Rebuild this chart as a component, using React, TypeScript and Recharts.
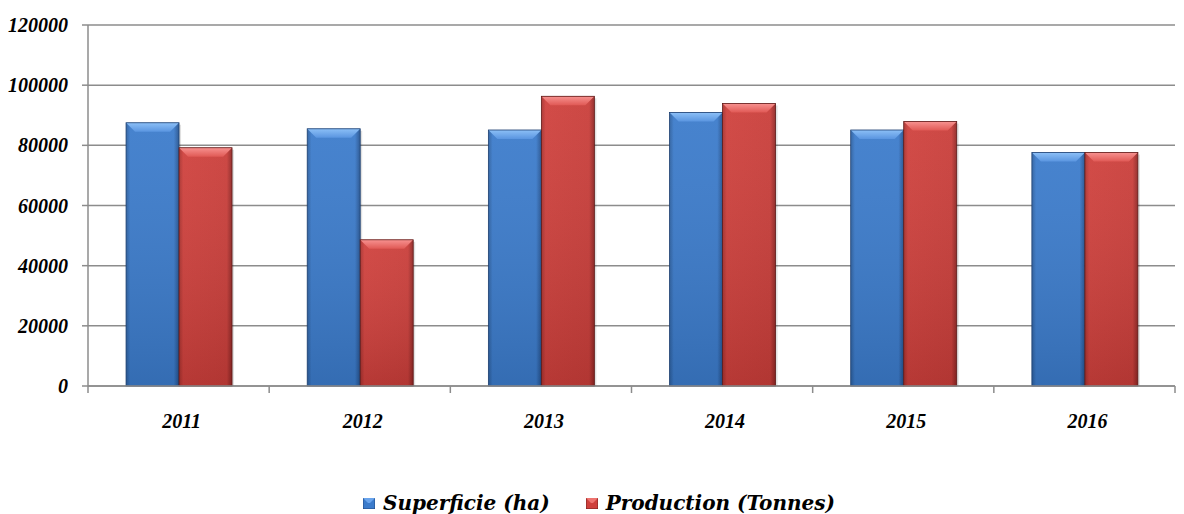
import React from "react"
import { BarChart, Bar, XAxis, YAxis, CartesianGrid, Legend } from "recharts"

// Superficie et production par année
const YEARS = ["2011", "2012", "2013", "2014", "2015", "2016"]
const SUPERFICIE = [87500, 85500, 85100, 90900, 85100, 77600]
const PRODUCTION = [79200, 48600, 96300, 93900, 87900, 77600]
const Y_TICKS = [0, 20000, 40000, 60000, 80000, 100000, 120000]
const SERIES_NAMES = ["Superficie (ha)", "Production (Tonnes)"]

const data = YEARS.map((year, i) => ({
  year,
  superficie: SUPERFICIE[i],
  production: PRODUCTION[i],
}))

const W = 1184
const H = 514
const LEFT = 88
const RIGHT = 9
const PLOT_W = W - LEFT - RIGHT
const BAND = PLOT_W / YEARS.length
const GRID = "#8c8c8c"
const FONT = "'Liberation Serif', 'Times New Roman', serif"

const PALETTE = {
  blue: { base: "#3b7bcb", light: "#6aa4ec", dark: "#24528f", edge: "#1d3f70" },
  red: { base: "#cf403c", light: "#ee7470", dark: "#8f2624", edge: "#5e1a18" },
}

// barre avec biseau façon Excel
function BevelBar(props: any) {
  const { x, y, width, height, tone } = props
  if (!height || height <= 0) return null
  const c = PALETTE[tone as "blue" | "red"]
  const b = Math.min(9, width / 4, height / 2)
  return (
    <g>
      <rect x={x + 2} y={y + 2} width={width} height={height - 2} fill="#000" opacity={0.12} />
      <rect x={x} y={y} width={width} height={height} fill={`url(#side-${tone})`} />
      <rect x={x} y={y} width={width} height={height} fill="url(#shade-v)" />
      <polygon
        points={`${x},${y} ${x + width},${y} ${x + width - b},${y + b} ${x + b},${y + b}`}
        fill={`url(#top-${tone})`}
      />
      <rect x={x} y={y} width={width} height={height} fill="none" stroke={c.edge} strokeWidth={0.8} />
    </g>
  )
}

function XTick(props: any) {
  const { x, y, payload, index } = props
  const axisY = y - 6
  const left = x - BAND / 2
  return (
    <g>
      <line x1={left} y1={axisY} x2={left} y2={axisY + 7} stroke={GRID} strokeWidth={1.5} />
      {index === YEARS.length - 1 && (
        <line x1={x + BAND / 2} y1={axisY} x2={x + BAND / 2} y2={axisY + 7} stroke={GRID} strokeWidth={1.5} />
      )}
      <text
        x={x + 3}
        y={axisY + 42}
        textAnchor="middle"
        fontFamily={FONT}
        fontStyle="italic"
        fontWeight="bold"
        fontSize={20}
        fill="#000"
      >
        {payload.value}
      </text>
    </g>
  )
}

function YTick(props: any) {
  const { x, y, payload } = props
  return (
    <text
      x={x}
      y={y + 7}
      textAnchor="end"
      fontFamily={FONT}
      fontStyle="italic"
      fontWeight="bold"
      fontSize={20}
      fill="#000"
    >
      {payload.value}
    </text>
  )
}

function LegendIcon({ tone }: { tone: "blue" | "red" }) {
  const c = PALETTE[tone]
  return (
    <svg width={12} height={11} style={{ display: "block" }}>
      <rect x={0} y={0} width={12} height={11} fill={c.base} stroke={c.edge} strokeWidth={0.8} />
      <polygon points="0,0 12,0 7,5 5,5" fill={c.light} />
    </svg>
  )
}

function LegendContent() {
  const tones: ("blue" | "red")[] = ["blue", "red"]
  return (
    <div style={{ display: "flex", justifyContent: "center", alignItems: "center", paddingLeft: 14 }}>
      {SERIES_NAMES.map((name, i) => (
        <div key={name} style={{ display: "flex", alignItems: "center", marginRight: i === 0 ? 36 : 0 }}>
          <LegendIcon tone={tones[i]} />
          <span
            style={{
              marginLeft: 8,
              fontFamily: "'DejaVu Serif', serif",
              fontStyle: "italic",
              fontWeight: "bold",
              fontSize: 20,
              color: "#000",
              lineHeight: "22px",
            }}
          >
            {name}
          </span>
        </div>
      ))}
    </div>
  )
}

export default function App() {
  return (
    <div style={{ position: "absolute", left: 0, top: 0, width: W, height: H, background: "#fff" }}>
      <BarChart
        width={W}
        height={H}
        data={data}
        margin={{ top: 25, right: RIGHT, bottom: 0, left: 0 }}
        barCategoryGap="21%"
        barGap={0}
      >
        <defs>
          <linearGradient id="side-blue" x1="0" y1="0" x2="1" y2="0">
            <stop offset="0" stopColor="#2c5f9f" />
            <stop offset="0.08" stopColor="#3b7bcb" />
            <stop offset="0.9" stopColor="#3b7bcb" />
            <stop offset="1" stopColor="#24528f" />
          </linearGradient>
          <linearGradient id="side-red" x1="0" y1="0" x2="1" y2="0">
            <stop offset="0" stopColor="#a8302d" />
            <stop offset="0.08" stopColor="#cf403c" />
            <stop offset="0.9" stopColor="#c93d39" />
            <stop offset="1" stopColor="#8f2624" />
          </linearGradient>
          <linearGradient id="shade-v" x1="0" y1="0" x2="0" y2="1">
            <stop offset="0" stopColor="#fff" stopOpacity={0.06} />
            <stop offset="1" stopColor="#000" stopOpacity={0.12} />
          </linearGradient>
          <linearGradient id="top-blue" x1="0" y1="0" x2="0" y2="1">
            <stop offset="0" stopColor="#8cc0f7" />
            <stop offset="1" stopColor="#5a95e0" />
          </linearGradient>
          <linearGradient id="top-red" x1="0" y1="0" x2="0" y2="1">
            <stop offset="0" stopColor="#f79290" />
            <stop offset="1" stopColor="#e05955" />
          </linearGradient>
        </defs>
        <CartesianGrid vertical={false} stroke={GRID} strokeWidth={1.5} />
        <XAxis
          dataKey="year"
          height={128}
          stroke={GRID}
          strokeWidth={1.5}
          tickLine={false}
          tickSize={6}
          tickMargin={0}
          tick={<XTick />}
          interval={0}
        />
        <YAxis
          width={LEFT}
          domain={[0, 120000]}
          ticks={Y_TICKS}
          stroke={GRID}
          strokeWidth={1.5}
          tickSize={6}
          tickMargin={14}
          tick={<YTick />}
          interval={0}
        />
        <Legend
          layout="horizontal"
          verticalAlign="middle"
          align="center"
          content={<LegendContent />}
          wrapperStyle={{ position: "absolute", top: 492, left: 0, width: W }}
        />
        <Bar
          dataKey="superficie"
          name={SERIES_NAMES[0]}
          fill={PALETTE.blue.base}
          isAnimationActive={false}
          shape={(p: any) => <BevelBar {...p} tone="blue" />}
        />
        <Bar
          dataKey="production"
          name={SERIES_NAMES[1]}
          fill={PALETTE.red.base}
          isAnimationActive={false}
          shape={(p: any) => <BevelBar {...p} tone="red" />}
        />
      </BarChart>
    </div>
  )
}
